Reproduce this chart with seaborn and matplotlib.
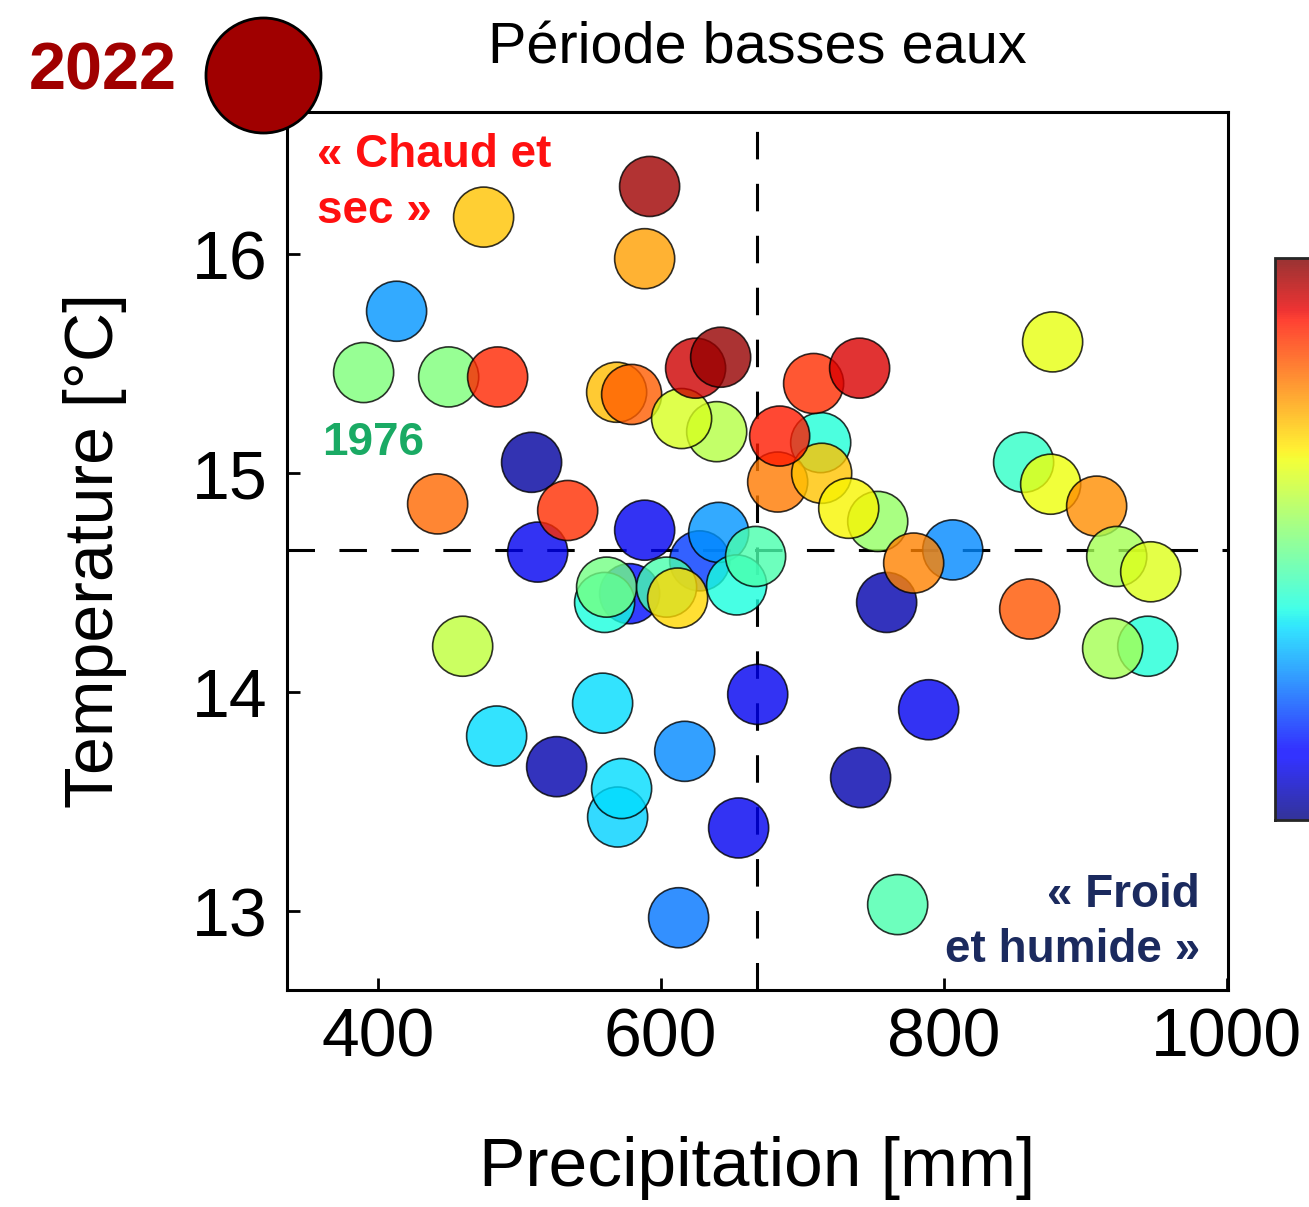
import numpy as np
import pandas as pd
import matplotlib
matplotlib.use("Agg")
import matplotlib.pyplot as plt
import seaborn as sns
from matplotlib.colors import Normalize, ListedColormap
from matplotlib.cm import ScalarMappable

# ---- data (ordered back to front, later points drawn on top) ----
precipitation = [592.2, 474.9, 588.7, 413.4, 390.1, 450.2, 484.8, 568.9, 579.5, 639.6,
                 614.8, 624.7, 642.4, 508.8, 442.4, 513.1, 534.3, 588.7, 627.6, 641.0,
                 653.7, 667.1, 578.1, 560.4, 561.8, 604.2, 612.0, 460.1, 713.1, 682.7,
                 713.8, 684.1, 708.1, 740.6, 753.4, 732.9, 759.7, 806.4, 778.8, 877.0,
                 856.5, 875.6, 908.1, 922.3, 946.3, 860.8, 944.2, 919.4, 668.6, 559.0,
                 484.1, 526.5, 617.0, 569.6, 572.4, 655.1, 789.4, 741.3, 612.7, 767.5]
temperature = [16.31, 16.17, 15.98, 15.74, 15.46, 15.44, 15.44, 15.37, 15.36, 15.19,
               15.25, 15.48, 15.53, 15.05, 14.86, 14.64, 14.83, 14.74, 14.60, 14.73,
               14.49, 14.62, 14.45, 14.41, 14.48, 14.48, 14.43, 14.21, 15.14, 14.96,
               15.00, 15.17, 15.41, 15.48, 14.78, 14.84, 14.41, 14.65, 14.59, 15.60,
               15.05, 14.95, 14.85, 14.62, 14.55, 14.38, 14.21, 14.20, 13.99, 13.95,
               13.80, 13.66, 13.73, 13.43, 13.56, 13.38, 13.92, 13.61, 12.97, 13.03]
couleur = [0.97, 0.70, 0.74, 0.27, 0.50, 0.50, 0.87, 0.71, 0.81, 0.57,
           0.61, 0.93, 0.98, 0.03, 0.80, 0.10, 0.86, 0.10, 0.18, 0.27,
           0.38, 0.44, 0.14, 0.38, 0.49, 0.44, 0.68, 0.58, 0.39, 0.78,
           0.70, 0.88, 0.86, 0.92, 0.53, 0.65, 0.04, 0.26, 0.77, 0.63,
           0.41, 0.64, 0.76, 0.55, 0.62, 0.82, 0.39, 0.55, 0.10, 0.34,
           0.34, 0.04, 0.26, 0.33, 0.34, 0.10, 0.10, 0.04, 0.24, 0.44]

seuil_precip = 668
seuil_temp = 14.65
precip_2022 = 319
temp_2022 = 16.82

sns.set_style("white")
plt.rcParams["font.family"] = ["Liberation Sans", "DejaVu Sans"]
plt.rcParams["text.color"] = "black"
plt.rcParams["axes.labelcolor"] = "black"

jet = matplotlib.colormaps["jet"]
# same colormap washed with white, for the colorbar (points use alpha)
jet_pale = ListedColormap(jet(np.linspace(0, 1, 256))[:, :3] * 0.8 + 0.2)

df = pd.DataFrame({"Precipitation": precipitation,
                   "Temperature": temperature,
                   "couleur": couleur})

fig = plt.figure(figsize=(13.09, 12.07), dpi=100)
ax = fig.add_axes([0.2193, 0.1798, 0.7189, 0.7274])

ax.axvline(seuil_precip, color="black", lw=2.2, dashes=(9, 8), zorder=2)
ax.axhline(seuil_temp, color="black", lw=2.2, dashes=(9, 8), zorder=2)

sns.scatterplot(data=df, x="Precipitation", y="Temperature", hue="couleur",
                palette=jet, hue_norm=(0, 1), s=1870, alpha=0.8,
                edgecolor="black", linewidth=1.2, legend=False, ax=ax, zorder=3)

# 2022 point, outside the frame
ax.scatter([precip_2022], [temp_2022], s=6860, color="#a00000",
           edgecolor="black", linewidth=2, clip_on=False, zorder=6)
fig.text(103 / 1309, 1 - 72 / 1207, "2022", color="#a00000", fontsize=48,
         fontweight="bold", ha="center", va="center")

ax.set_xlim(336, 1001)
ax.set_ylim(12.64, 16.65)
ax.set_xticks([400, 600, 800, 1000])
ax.set_yticks([13, 14, 15, 16])
ax.tick_params(direction="in", length=9, width=2, labelsize=49, pad=12,
               bottom=True, left=True, colors="black")
ax.tick_params(axis="y", pad=14)
for sp in ax.spines.values():
    sp.set_linewidth(2.2)
    sp.set_color("black")

ax.set_xlabel("Precipitation [mm]", fontsize=50, labelpad=47)
ax.set_ylabel("Temperature [°C]", fontsize=49, labelpad=47)
ax.set_title("Période basses eaux", fontsize=41.5, pad=35)

ax.text(0.032, 0.976, "« Chaud et\nsec »", transform=ax.transAxes, color="#ff1010",
        fontsize=33, fontweight="bold", ha="left", va="top", linespacing=1.35)
ax.text(0.037, 0.623, "1976", transform=ax.transAxes, color="#1aaa64",
        fontsize=33, fontweight="bold", ha="left", va="center")
ax.text(0.970, 0.02, "« Froid\net humide »", transform=ax.transAxes, color="#1b2a5e",
        fontsize=33, fontweight="bold", ha="right", va="bottom", linespacing=1.35)

# colorbar, cut by the right edge of the figure
cax = fig.add_axes([1275 / 1309, 1 - 820 / 1207, 0.05, 562 / 1207])
sm = ScalarMappable(norm=Normalize(0, 1), cmap=jet_pale)
cb = fig.colorbar(sm, cax=cax)
cb.outline.set_linewidth(2)
cb.set_ticks([])

fig.savefig("out.png", dpi=100)
